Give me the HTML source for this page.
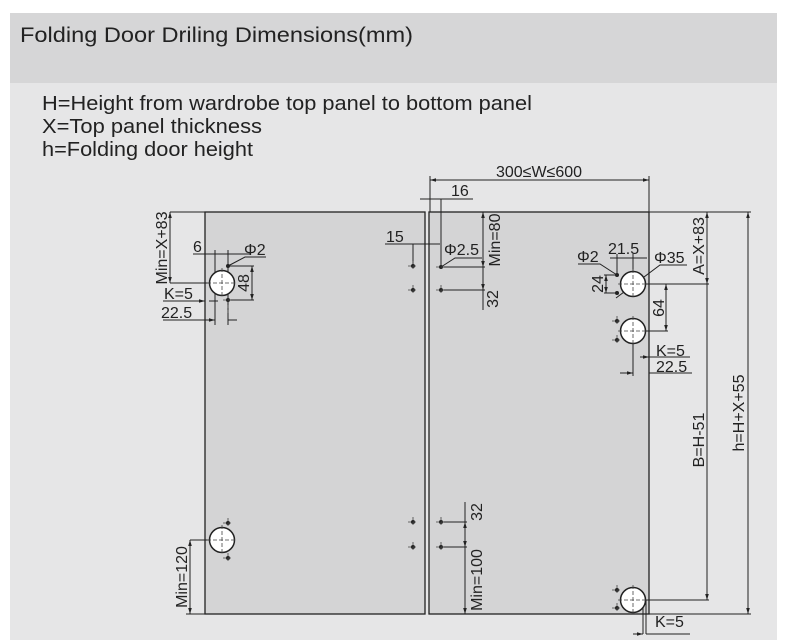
<!DOCTYPE html>
<html><head><style>
html,body{margin:0;padding:0;background:#fff;}
svg{display:block;}
text{font-family:"Liberation Sans",sans-serif;fill:#222;}
</style></head><body>
<svg width="787" height="643" viewBox="0 0 787 643" xmlns="http://www.w3.org/2000/svg">
<defs>
<marker id="a" viewBox="0 0 10 10" refX="10" refY="5" markerWidth="6" markerHeight="6" orient="auto-start-reverse"><path d="M0,2 L10,5 L0,8z" fill="#222"/></marker>
</defs>
<rect x="10" y="13" width="767" height="70" fill="#d6d6d7"/>
<rect x="10" y="83" width="767" height="557" fill="#e6e6e7"/>
<text x="20" y="42" font-size="21" textLength="393" lengthAdjust="spacingAndGlyphs">Folding Door Driling Dimensions(mm)</text>
<text x="42" y="110" font-size="20" textLength="490" lengthAdjust="spacingAndGlyphs">H=Height from wardrobe top panel to bottom panel</text>
<text x="42" y="133" font-size="20" textLength="220" lengthAdjust="spacingAndGlyphs">X=Top panel thickness</text>
<text x="42" y="156" font-size="20" textLength="211" lengthAdjust="spacingAndGlyphs">h=Folding door height</text>

<g stroke="#222" stroke-width="1.3" fill="none">
<rect x="205" y="212" width="220" height="402" fill="#d4d4d5"/>
<rect x="429" y="212" width="220" height="402" fill="#d4d4d5"/>
</g>

<g stroke="#222" stroke-width="1" fill="none">
<line x1="430" y1="180" x2="649" y2="180" marker-start="url(#a)" marker-end="url(#a)"/>
<line x1="430" y1="176" x2="430" y2="212"/><line x1="649" y1="176" x2="649" y2="212"/>
<line x1="420" y1="199" x2="473" y2="199"/>
<line x1="441" y1="199" x2="441" y2="268"/>
<line x1="170" y1="212" x2="205" y2="212"/>
<line x1="170" y1="212" x2="170" y2="283" marker-start="url(#a)" marker-end="url(#a)"/>
<line x1="170" y1="283" x2="230" y2="283"/>
<line x1="193" y1="254" x2="250" y2="254"/>
<line x1="215" y1="250" x2="215" y2="325"/><line x1="228" y1="250" x2="228" y2="325"/>
<polyline points="228,266 245,257 266,257"/>
<line x1="228" y1="266" x2="254" y2="266"/><line x1="228" y1="300" x2="254" y2="300"/>
<line x1="252" y1="266" x2="252" y2="300" marker-start="url(#a)" marker-end="url(#a)"/>
<line x1="163" y1="301" x2="205" y2="301" marker-end="url(#a)"/>
<line x1="209" y1="301" x2="218" y2="301"/>
<line x1="163" y1="320" x2="215" y2="320" marker-end="url(#a)"/>
<line x1="228" y1="320" x2="237" y2="320"/>
<line x1="385" y1="244" x2="440" y2="244"/>
<line x1="413" y1="244" x2="413" y2="266"/>
<polyline points="441,267 455,258 482,258"/>
<line x1="441" y1="267" x2="485" y2="267"/><line x1="441" y1="290" x2="485" y2="290"/>
<line x1="483" y1="212" x2="483" y2="267" marker-start="url(#a)" marker-end="url(#a)"/>
<line x1="483" y1="267" x2="483" y2="290" marker-end="url(#a)"/>
<line x1="483" y1="290" x2="483" y2="310"/>
<line x1="610" y1="258" x2="647" y2="258"/>
<line x1="617" y1="254" x2="617" y2="275"/><line x1="633" y1="254" x2="633" y2="284"/>
<polyline points="578,264 600,264 617,275"/>
<line x1="604" y1="275" x2="617" y2="275"/><line x1="604" y1="293" x2="617" y2="293"/>
<line x1="606" y1="275" x2="606" y2="293" marker-start="url(#a)" marker-end="url(#a)"/>
<polyline points="616,298 660,265 687,265"/>
<line x1="633" y1="284" x2="709" y2="284"/>
<line x1="666" y1="284" x2="666" y2="331" marker-start="url(#a)" marker-end="url(#a)"/>
<line x1="633" y1="331" x2="668" y2="331"/>
<line x1="649" y1="212" x2="751" y2="212"/>
<line x1="707" y1="212" x2="707" y2="284" marker-start="url(#a)" marker-end="url(#a)"/>
<line x1="707" y1="284" x2="707" y2="600" marker-end="url(#a)"/>
<line x1="748" y1="212" x2="748" y2="614" marker-start="url(#a)" marker-end="url(#a)"/>
<line x1="649" y1="614" x2="751" y2="614"/>
<line x1="633" y1="331" x2="633" y2="376"/>
<line x1="640" y1="357" x2="649" y2="357" marker-end="url(#a)"/>
<line x1="649" y1="357" x2="690" y2="357"/>
<line x1="620" y1="373" x2="633" y2="373" marker-end="url(#a)"/>
<line x1="649" y1="373" x2="692" y2="373"/>
<line x1="190" y1="540" x2="222" y2="540"/>
<line x1="190" y1="540" x2="190" y2="614" marker-start="url(#a)" marker-end="url(#a)"/>
<line x1="186" y1="614" x2="205" y2="614"/>
<line x1="441" y1="522" x2="467" y2="522"/><line x1="441" y1="547" x2="467" y2="547"/>
<line x1="465" y1="502" x2="465" y2="522"/>
<line x1="465" y1="522" x2="465" y2="547" marker-start="url(#a)" marker-end="url(#a)"/>
<line x1="465" y1="547" x2="465" y2="614" marker-end="url(#a)"/>
<line x1="633" y1="600" x2="709" y2="600"/>
<line x1="643" y1="600" x2="643" y2="634"/><line x1="646" y1="600" x2="646" y2="634"/>
<line x1="633" y1="634" x2="643" y2="634" marker-end="url(#a)"/>
<line x1="646" y1="634" x2="690" y2="634"/>
</g>

<g stroke="#222" stroke-width="1.5" fill="#fff">
<circle cx="222" cy="283" r="12.5"/><circle cx="633" cy="284" r="12.5"/>
<circle cx="633" cy="331" r="12.5"/><circle cx="222" cy="540" r="12.5"/>
<circle cx="633" cy="600" r="12.5"/>
</g>
<g stroke="#444" stroke-width="0.8" stroke-dasharray="4,2">
<line x1="207" y1="283" x2="237" y2="283"/><line x1="222" y1="268" x2="222" y2="298"/>
<line x1="618" y1="284" x2="648" y2="284"/><line x1="633" y1="269" x2="633" y2="299"/>
<line x1="618" y1="331" x2="648" y2="331"/><line x1="633" y1="316" x2="633" y2="346"/>
<line x1="207" y1="540" x2="237" y2="540"/><line x1="222" y1="525" x2="222" y2="555"/>
<line x1="618" y1="600" x2="648" y2="600"/><line x1="633" y1="585" x2="633" y2="615"/>
</g>
<g fill="#222">
<circle cx="228" cy="266" r="2"/><circle cx="228" cy="300" r="2"/>
<circle cx="413" cy="266" r="2"/><circle cx="413" cy="290" r="2"/>
<circle cx="441" cy="267" r="2"/><circle cx="441" cy="290" r="2"/>
<circle cx="617" cy="275" r="2"/><circle cx="617" cy="293" r="2"/>
<circle cx="617" cy="321" r="2"/><circle cx="617" cy="340" r="2"/>
<circle cx="228" cy="523" r="2"/><circle cx="228" cy="558" r="2"/>
<circle cx="413" cy="522" r="2"/><circle cx="413" cy="547" r="2"/>
<circle cx="441" cy="522" r="2"/><circle cx="441" cy="547" r="2"/>
<circle cx="617" cy="590" r="2"/><circle cx="617" cy="608" r="2"/>
</g>
<g stroke="#444" stroke-width="0.8" stroke-dasharray="3,2">
<path d="M408,266h10M413,261v10M408,290h10M413,285v10M436,267h10M436,290h10M441,285v10M612,321h10M617,316v10M612,340h10M617,335v10M223,523h10M228,518v10M223,558h10M228,553v10M408,522h10M413,517v10M408,547h10M413,542v10M436,522h10M441,517v10M436,547h10M441,542v10M612,590h10M617,585v10M612,608h10M617,603v10M223,300h10M228,305v10"/>
</g>

<g font-size="16">
<text x="539" y="177" text-anchor="middle">300≤W≤600</text>
<text x="451" y="196">16</text>
<text x="386" y="242">15</text>
<text x="193" y="252">6</text>
<text x="244" y="255">Φ2</text>
<text x="444" y="255">Φ2.5</text>
<text x="577" y="262">Φ2</text>
<text x="608" y="254">21.5</text>
<text x="654" y="263">Φ35</text>
<text x="164" y="299">K=5</text>
<text x="161" y="318">22.5</text>
<text x="656" y="356">K=5</text>
<text x="656" y="372">22.5</text>
<text x="655" y="627">K=5</text>
<text transform="translate(167,248) rotate(-90)" text-anchor="middle">Min=X+83</text>
<text transform="translate(249,283) rotate(-90)" text-anchor="middle">48</text>
<text transform="translate(500,240) rotate(-90)" text-anchor="middle">Min=80</text>
<text transform="translate(498,299) rotate(-90)" text-anchor="middle">32</text>
<text transform="translate(603,284) rotate(-90)" text-anchor="middle">24</text>
<text transform="translate(664,308) rotate(-90)" text-anchor="middle">64</text>
<text transform="translate(704,246) rotate(-90)" text-anchor="middle">A=X+83</text>
<text transform="translate(704,440) rotate(-90)" text-anchor="middle">B=H-51</text>
<text transform="translate(744,413) rotate(-90)" text-anchor="middle">h=H+X+55</text>
<text transform="translate(187,577) rotate(-90)" text-anchor="middle">Min=120</text>
<text transform="translate(482,512) rotate(-90)" text-anchor="middle">32</text>
<text transform="translate(482,580) rotate(-90)" text-anchor="middle">Min=100</text>
</g>
</svg>
</body></html>
